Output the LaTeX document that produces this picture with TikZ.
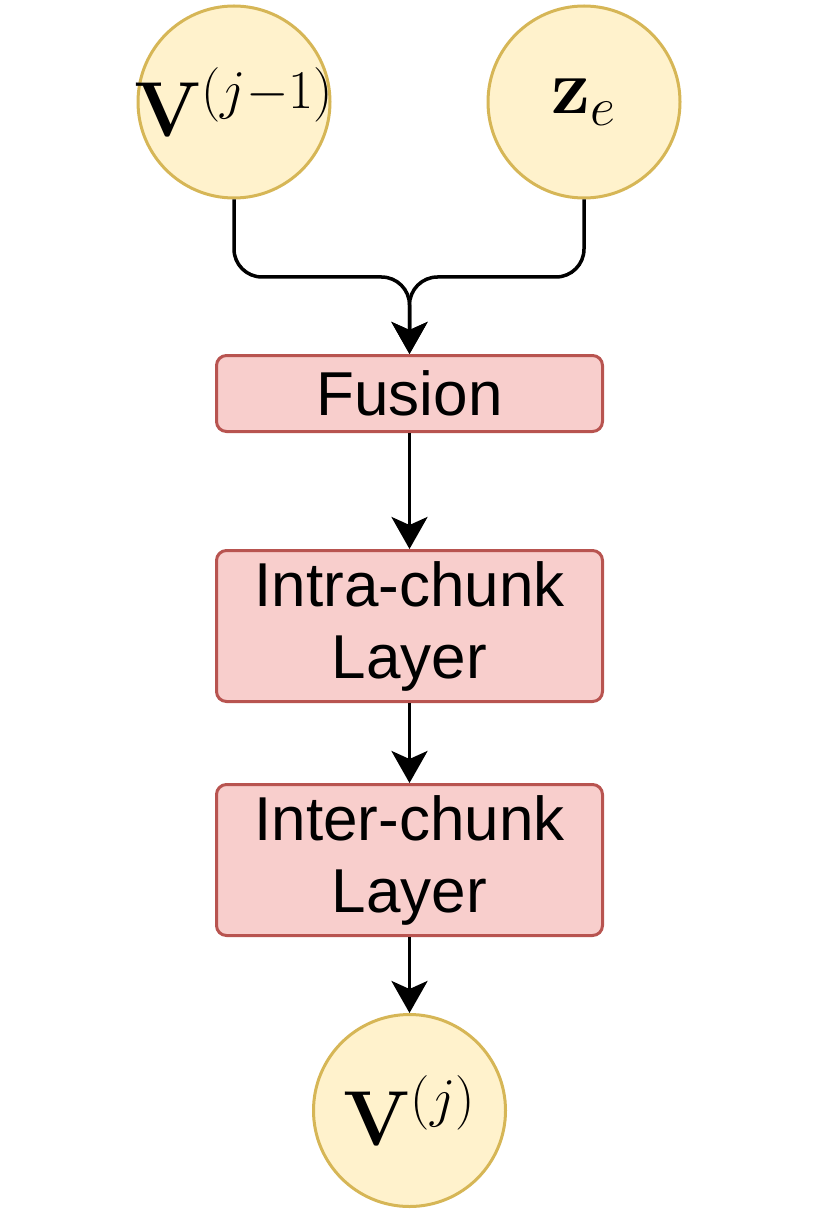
\documentclass[tikz,border=0pt]{standalone}
\usepackage{fix-cm}
\usepackage{amsmath}
\usepackage[no-math]{fontspec}
\setmainfont{Liberation Sans}
\usepackage{tikz}
\usetikzlibrary{positioning, arrows.meta}
\definecolor{statefill}{HTML}{FFF2CC}
\definecolor{statedraw}{HTML}{D6B656}
\definecolor{layerfill}{HTML}{F8CECC}
\definecolor{layerdraw}{HTML}{B85450}

\begin{document}
\begin{tikzpicture}[
    >={Stealth[length=16pt, width=18pt, inset=4pt]},
    state/.style={circle, draw=statedraw, fill=statefill, line width=1.5pt,
                  minimum size=96pt, inner sep=0pt,
                  font=\fontsize{39}{47}\selectfont},
    layer/.style={draw=layerdraw, fill=layerfill, line width=1.5pt,
                  rounded corners=5pt, minimum width=193pt, inner sep=2pt,
                  align=center, font=\fontsize{31}{36}\selectfont},
    arr/.style={->, line width=1.75pt},
  ]
  \useasboundingbox (0,0) rectangle (415.5pt,-609.5pt);

  % Inputs
  \node[state] (vprev) at (117pt,-51pt) {\makebox[0pt]{$\mathbf{V}^{(j-1)}$}};
  \node[state] (ze) at (292pt,-51pt) {\makebox[0pt]{$\mathbf{z}_e$}};

  % Block
  \node[layer, minimum height=38pt] (fusion) at (204.75pt,-196.75pt) {Fusion};
  \node[layer, minimum height=75.5pt, below=58pt of fusion] (intra) {Intra-chunk\\Layer};
  \node[layer, minimum height=75.5pt, below=40pt of intra] (inter) {Inter-chunk\\Layer};

  % Output
  \node[state, below=38pt of inter] (vcur) {\makebox[0pt]{$\mathbf{V}^{(j)}$}};

  \coordinate[above=38.5pt of fusion] (merge);
  \draw[arr, rounded corners=14pt] (vprev.south) |- (merge) -- (fusion.north);
  \draw[arr, rounded corners=14pt] (ze.south) |- (merge) -- (fusion.north);
  \draw[arr] (fusion) -- (intra);
  \draw[arr] (intra) -- (inter);
  \draw[arr] (inter) -- (vcur);

\end{tikzpicture}
\end{document}
